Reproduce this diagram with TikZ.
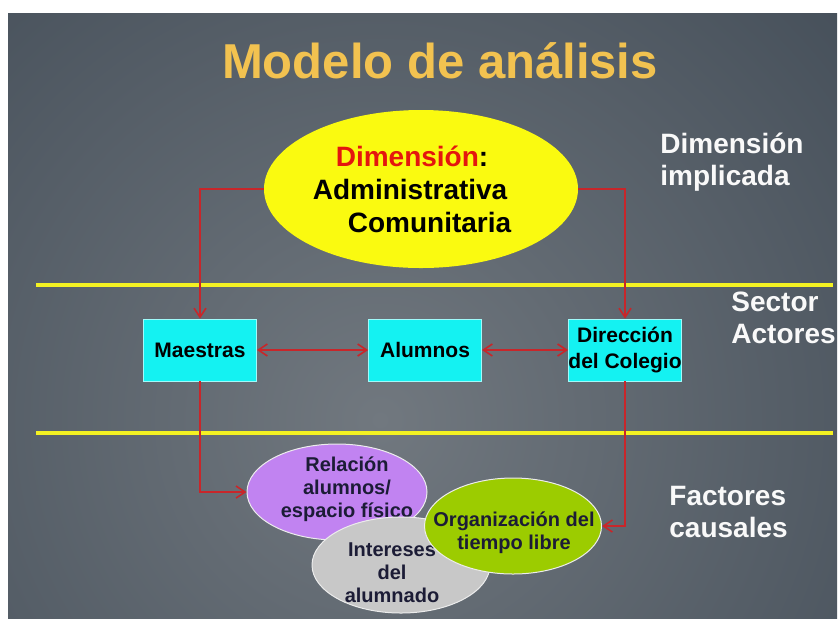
\documentclass[tikz,border=0pt]{standalone}
\usepackage{fontspec}
\setmainfont{Liberation Sans}
\usepackage{xcolor}
\usepackage{tikz}
\usetikzlibrary{positioning, shapes.geometric, arrows.meta}

\definecolor{fondoin}{HTML}{71787F}
\definecolor{fondoout}{HTML}{24303D}
\definecolor{titulo}{HTML}{F2C250}
\definecolor{amarillo}{HTML}{FAFA10}
\definecolor{linea}{HTML}{F4F222}
\definecolor{rojo}{HTML}{E4160E}
\definecolor{flecha}{HTML}{C8262A}
\definecolor{cian}{HTML}{14F2F2}
\definecolor{morado}{HTML}{C183F1}
\definecolor{gris}{HTML}{C8C8C8}
\definecolor{verde}{HTML}{9CCC00}
\definecolor{tinta}{HTML}{1C1C36}

\begin{document}
\begin{tikzpicture}[x=0.5pt,y=-0.5pt,>={Straight Barb[length=4.5pt,width=6pt]}]
					\tikzstyle{actor}=[rectangle,draw=cian!40!white,line width=0.4pt,fill=cian,minimum width=56.5pt,minimum height=31pt,inner sep=0pt,align=center,font=\fontsize{10.5}{13}\selectfont\bfseries]
					\tikzstyle{factor}=[ellipse,draw=white!85!gray,line width=0.5pt,inner sep=0pt,minimum width=89pt,minimum height=48pt]
					\tikzstyle{textofactor}=[align=center,inner sep=0pt,text=tinta,font=\fontsize{10}{11.5}\selectfont\bfseries]
					\tikzstyle{nivel}=[anchor=base west,align=left,inner sep=0pt,text=white!95!gray,font=\fontsize{14}{16}\selectfont\bfseries]
					\tikzstyle{conector}=[draw=flecha,line width=0.8pt]
					\tikzstyle{separador}=[line width=2.4pt,draw=linea]
					\useasboundingbox (0,0) rectangle (840,618);
					\fill[white] (0,0) rectangle (840,618);
					\begin{scope}
						\clip (8,13) rectangle (837,618);
						\shade[inner color=fondoin,outer color=fondoout] (-740,-700) rectangle (1500,1540);
					\end{scope}
					% separadores
					\draw[separador] (36,285) -- (833,285);
					\draw[separador] (36,433) -- (833,433);
					\node[anchor=base,inner sep=0pt,font=\fontsize{24.5}{28}\selectfont\bfseries,text=titulo](titulo) at (440,78) {Modelo de análisis};
					\node[ellipse,fill=amarillo,minimum width=157pt,minimum height=79pt,inner sep=0pt,align=left,font=\fontsize{14}{16.5}\selectfont\bfseries](dim) at (421,189) {\hspace*{11.5pt}{\color{rojo}Dimensión}:\\Administrativa\\\hspace*{17.5pt}Comunitaria\hspace*{9pt}};
					\node[actor](maes) at (200,350) {Maestras};
					\node[actor](alum) at (425,350) {Alumnos};
					\node[actor](dir) at (625,350) {Dirección\\del Colegio};
					\node[factor,fill=morado,minimum width=90pt](rel) at (337,492) {};
					\node[textofactor](reltxt) at (347,489) {Relación\\alumnos/\\espacio físico};
					\node[factor,fill=gris](inter) at (401,565) {};
					\node[textofactor](intertxt) at (392,573) {Intereses\\del\\alumnado};
					\node[factor,fill=verde,minimum width=88.5pt](org) at (513,526) {};
					\node[textofactor](orgtxt) at (514,533) {Organización del\\tiempo libre};
					\node[nivel](nivdim) at (660,185) {Dimensión\\implicada};
					\node[nivel](nivsec) at (731,343) {Sector\\Actores};
					\node[nivel](nivfac) at (669,537) {Factores\\causales};
					\path
						(dim.west) edge[conector,->,to path={-| (\tikztotarget)}] (maes.north)
						(dim.east) edge[conector,->,to path={-| (\tikztotarget)}] (dir.north)
						(maes.south) edge[conector,->,to path={|- (\tikztotarget)}] (rel.west)
						(dir.south) edge[conector,->,to path={|- (\tikztotarget)}] (org.east);
					\path
						(maes) edge[conector,<->] (alum)
						(alum) edge[conector,<->] (dir);
				\end{tikzpicture}
\end{document}
